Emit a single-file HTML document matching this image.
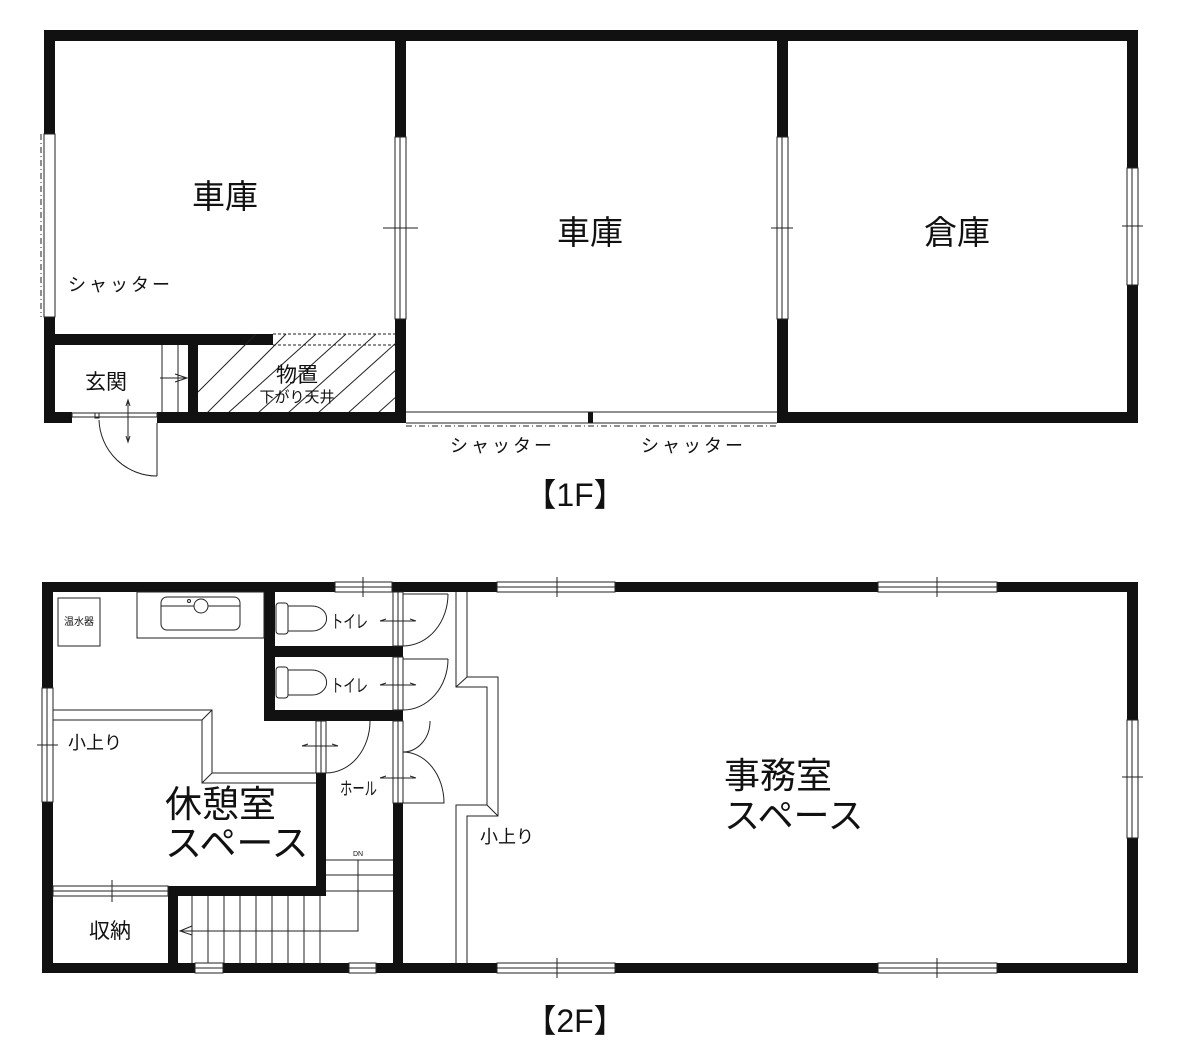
<!DOCTYPE html>
<html><head><meta charset="utf-8"><style>
html,body{margin:0;padding:0;background:#fff}
svg{display:block}
text{font-family:"Liberation Sans","Noto Sans CJK JP",sans-serif;fill:#111}
</style></head><body>
<svg width="1181" height="1063" viewBox="0 0 1181 1063" xmlns="http://www.w3.org/2000/svg">
<defs>
<clipPath id="hc"><rect x="198" y="334" width="197" height="78"/></clipPath>
</defs>
<g fill="#111">
<rect x="44" y="30" width="1094" height="11"/>
<rect x="44" y="30" width="11" height="104"/>
<rect x="44" y="317" width="11" height="106"/>
<rect x="1127" y="30" width="11" height="138"/>
<rect x="1127" y="285" width="11" height="138"/>
<rect x="395" y="30" width="11" height="107"/>
<rect x="395" y="319" width="11" height="104"/>
<rect x="777" y="30" width="11" height="107"/>
<rect x="777" y="319" width="11" height="104"/>
<rect x="777" y="412" width="361" height="11"/>
<rect x="44" y="334" width="229" height="11"/>
<rect x="44" y="412" width="28" height="11"/>
<rect x="157" y="412" width="249" height="11"/>
<rect x="188" y="345" width="10" height="67"/>
<rect x="588" y="412" width="5" height="11"/>
</g>
<g fill="none" stroke="#222" stroke-width="1">
<rect x="44" y="134" width="11" height="183"/>
<line x1="41" y1="134" x2="41" y2="317" stroke-dasharray="6,3,1,3"/>
<rect x="395" y="137" width="11" height="182"/><line x1="400" y1="137" x2="400" y2="319"/>
<line x1="383" y1="228" x2="418" y2="228"/>
<rect x="777" y="137" width="11" height="182"/><line x1="782" y1="137" x2="782" y2="319"/>
<line x1="771" y1="228" x2="793" y2="228"/>
<rect x="1127" y="168" width="11" height="117"/><line x1="1132" y1="168" x2="1132" y2="285"/>
<line x1="1122" y1="226" x2="1143" y2="226"/>
<line x1="406" y1="412" x2="777" y2="412"/>
<line x1="406" y1="423" x2="777" y2="423"/>
<line x1="406" y1="426" x2="777" y2="426" stroke-dasharray="6,3,1,3"/>
<line x1="273" y1="334" x2="395" y2="334" stroke-dasharray="3,2"/>
<line x1="273" y1="345" x2="395" y2="345" stroke-dasharray="3,2"/>
<g clip-path="url(#hc)">
<path d="M198,392 L256,334 M198,422 L286,334 M218,422 L316,334 M248,422 L346,334 M278,422 L376,334 M308,422 L406,334 M338,422 L436,334 M368,422 L466,334"/>
</g>
<line x1="162" y1="345" x2="162" y2="412"/><line x1="178" y1="345" x2="178" y2="412"/>
<path d="M160,378 H187 M175,374 L187,378 L175,382"/>
<rect x="72" y="413" width="85" height="4"/>
<rect x="95" y="413" width="4" height="5"/>
<line x1="157" y1="423" x2="157" y2="476"/>
<path d="M99,420 A58,58 0 0 0 157,476"/>
<path d="M128,402 V440 M126,406 L128,400 L130,406 M126,436 L128,442 L130,436"/>
</g>
<text x="225" y="208" font-size="33" text-anchor="middle">車庫</text>
<text x="590" y="244" font-size="33" text-anchor="middle">車庫</text>
<text x="957" y="244" font-size="33" text-anchor="middle">倉庫</text>
<text x="68" y="291" font-size="18" textLength="102">シャッター</text>
<text x="106" y="389" font-size="21" text-anchor="middle">玄関</text>
<text x="297" y="382" font-size="21" text-anchor="middle">物置</text>
<text x="297" y="402" font-size="15" text-anchor="middle">下がり天井</text>
<text x="450" y="452" font-size="18" textLength="102">シャッター</text>
<text x="641" y="452" font-size="18" textLength="102">シャッター</text>
<text x="575" y="506" font-size="32" text-anchor="middle">【1F】</text>

<g fill="#111">
<rect x="42" y="582" width="293" height="10"/>
<rect x="392" y="582" width="105" height="10"/>
<rect x="615" y="582" width="263" height="10"/>
<rect x="997" y="582" width="141" height="10"/>
<rect x="42" y="963" width="153" height="10"/>
<rect x="223" y="963" width="126" height="10"/>
<rect x="376" y="963" width="121" height="10"/>
<rect x="615" y="963" width="263" height="10"/>
<rect x="997" y="963" width="141" height="10"/>
<rect x="42" y="582" width="11" height="106"/>
<rect x="42" y="802" width="11" height="171"/>
<rect x="1127" y="582" width="11" height="138"/>
<rect x="1127" y="838" width="11" height="135"/>
<rect x="393" y="582" width="10" height="10"/>
<rect x="393" y="646" width="10" height="11"/>
<rect x="393" y="710" width="10" height="11"/>
<rect x="393" y="803" width="10" height="170"/>
<rect x="264" y="592" width="11" height="128"/>
<rect x="264" y="646" width="139" height="11"/>
<rect x="264" y="710" width="139" height="11"/>
<rect x="316" y="773" width="10" height="123"/>
<rect x="168" y="886" width="158" height="10"/>
<rect x="168" y="886" width="10" height="87"/>
</g>
<g fill="none" stroke="#222" stroke-width="1">
<rect x="335" y="582" width="57" height="10"/><line x1="335" y1="587" x2="392" y2="587"/><line x1="363" y1="577" x2="363" y2="597"/>
<rect x="497" y="582" width="118" height="10"/><line x1="497" y1="587" x2="615" y2="587"/><line x1="557" y1="577" x2="557" y2="597"/>
<rect x="878" y="582" width="119" height="10"/><line x1="878" y1="587" x2="997" y2="587"/><line x1="937" y1="577" x2="937" y2="597"/>
<rect x="195" y="963" width="28" height="10"/><line x1="195" y1="968" x2="223" y2="968"/>
<rect x="349" y="963" width="27" height="10"/><line x1="349" y1="968" x2="376" y2="968"/>
<rect x="497" y="963" width="118" height="10"/><line x1="497" y1="968" x2="615" y2="968"/><line x1="557" y1="958" x2="557" y2="978"/>
<rect x="878" y="963" width="119" height="10"/><line x1="878" y1="968" x2="997" y2="968"/><line x1="937" y1="958" x2="937" y2="978"/>
<rect x="42" y="688" width="11" height="114"/><line x1="47" y1="688" x2="47" y2="802"/><line x1="37" y1="745" x2="58" y2="745"/>
<rect x="1127" y="720" width="11" height="118"/><line x1="1132" y1="720" x2="1132" y2="838"/><line x1="1122" y1="777" x2="1143" y2="777"/>
<rect x="393" y="592" width="10" height="54"/><line x1="398" y1="592" x2="398" y2="646"/>
<rect x="393" y="657" width="10" height="53"/><line x1="398" y1="657" x2="398" y2="710"/>
<rect x="393" y="721" width="10" height="82"/><line x1="398" y1="721" x2="398" y2="803"/>
<rect x="316" y="721" width="10" height="52"/><line x1="321" y1="721" x2="321" y2="773"/>
<path d="M448,594 A45,52 0 0 1 403,646 M403,594 H448"/>
<path d="M448,659 A45,51 0 0 1 403,710 M403,659 H448"/>
<path d="M430,721 V723 A27,31 0 0 1 403,752"/>
<path d="M403,752 A41,51 0 0 1 444,803 H403"/>
<path d="M370,721 A44,52 0 0 1 326,773"/>
<path d="M380,621 H415 M410,619 L416,621 M386,619 L380,621"/>
<path d="M380,685 H415 M410,683 L416,685 M386,683 L380,685"/>
<path d="M380,778 H415 M410,776 L416,778 M386,776 L380,778"/>
<path d="M302,746 H337 M332,744 L338,746 M308,744 L302,746"/>
<rect x="137" y="592" width="127" height="46"/>
<rect x="161" y="597" width="79" height="33" rx="6"/>
<line x1="161" y1="606" x2="240" y2="606"/>
<circle cx="201" cy="606" r="7" fill="#fff"/>
<circle cx="189" cy="601" r="1.5"/>
<rect x="58" y="598" width="42" height="48"/>
<rect x="276" y="603" width="12" height="31" rx="3"/>
<path d="M288,606 H312 A14,12 0 0 1 312,631 H288"/>
<rect x="276" y="667" width="12" height="31" rx="3"/>
<path d="M288,670 H312 A14,12 0 0 1 312,695 H288"/>
<path d="M53,710 H212 V773 H316"/>
<path d="M53,720 H202 V783 H316"/>
<path d="M202,720 L212,710 M202,783 L212,773"/>
<path d="M467,592 V677 H498 V816 H467 V963"/>
<path d="M456,592 V687 H487 V805 H456 V963"/>
<path d="M456,687 L467,677 M487,805 L498,816"/>
<rect x="53" y="886" width="115" height="10"/><line x1="53" y1="891" x2="168" y2="891"/><line x1="112" y1="880" x2="112" y2="902"/>
<path d="M192,896 V963 M208,896 V963 M224,896 V963 M240,896 V963 M256,896 V963 M272,896 V963 M288,896 V963 M304,896 V963 M320,896 V963"/>
<path d="M326,860 H393 M326,875 H393 M326,891 H393"/>
<path d="M358,860 V931 H180 M192,926 L180,931 L192,935"/>
</g>
<text x="358" y="856" font-size="7" text-anchor="middle">DN</text>
<text x="79" y="625" font-size="10" text-anchor="middle">温水器</text>
<text x="331" y="628" font-size="18" textLength="37" lengthAdjust="spacingAndGlyphs">トイレ</text>
<text x="331" y="692" font-size="18" textLength="37" lengthAdjust="spacingAndGlyphs">トイレ</text>
<text x="340" y="795" font-size="18" textLength="37" lengthAdjust="spacingAndGlyphs">ホール</text>
<text x="95" y="749" font-size="18" text-anchor="middle">小上り</text>
<text x="507" y="843" font-size="18" text-anchor="middle">小上り</text>
<text x="165" y="817" font-size="37">休憩室</text>
<text x="165" y="856" font-size="37">スペース</text>
<text x="110" y="938" font-size="21" text-anchor="middle">収納</text>
<text x="724" y="788" font-size="36">事務室</text>
<text x="724" y="828" font-size="36">スペース</text>
<text x="575" y="1032" font-size="32" text-anchor="middle">【2F】</text>
</svg>
</body></html>
